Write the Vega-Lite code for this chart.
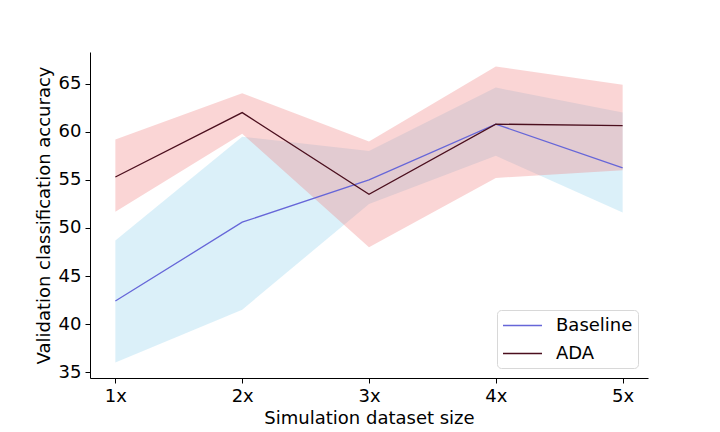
{
  "$schema": "https://vega.github.io/schema/vega-lite/v6.json",
  "width": 558,
  "height": 326,
  "autosize": {"type": "none"},
  "padding": {"left": 90, "top": 52, "right": 72, "bottom": 54},
  "background": "white",
  "config": {
    "font": "DejaVu Sans",
    "view": {"stroke": null},
    "axis": {"grid": false, "domainColor": "black", "tickColor": "black", "labelColor": "black", "titleColor": "black", "labelFontSize": 18, "titleFontSize": 18, "titleFontWeight": "normal", "tickSize": 5, "labelPadding": 4, "domainWidth": 1, "tickWidth": 1}
  },
  "data": {
    "values": [
      {"size": 1, "series": "Baseline", "mean": 42.4, "lo": 36.0, "hi": 48.7},
      {"size": 2, "series": "Baseline", "mean": 50.6, "lo": 41.5, "hi": 59.5},
      {"size": 3, "series": "Baseline", "mean": 55.0, "lo": 52.5, "hi": 58.0},
      {"size": 4, "series": "Baseline", "mean": 60.8, "lo": 57.5, "hi": 64.6},
      {"size": 5, "series": "Baseline", "mean": 56.25, "lo": 51.6, "hi": 62.0},
      {"size": 1, "series": "ADA", "mean": 55.3, "lo": 51.7, "hi": 59.2},
      {"size": 2, "series": "ADA", "mean": 62.0, "lo": 59.8, "hi": 64.0},
      {"size": 3, "series": "ADA", "mean": 53.5, "lo": 48.0, "hi": 59.0},
      {"size": 4, "series": "ADA", "mean": 60.8, "lo": 55.2, "hi": 66.8},
      {"size": 5, "series": "ADA", "mean": 60.65, "lo": 56.0, "hi": 64.9}
    ]
  },
  "encoding": {
    "x": {
      "field": "size", "type": "quantitative",
      "scale": {"domain": [0.8, 5.2], "nice": false, "zero": false},
      "axis": {"values": [1, 2, 3, 4, 5], "labelExpr": "datum.value + 'x'", "title": "Simulation dataset size", "titlePadding": 4}
    }
  },
  "layer": [
    {
      "transform": [{"filter": "datum.series == 'Baseline'"}],
      "mark": {"type": "area", "color": "#87ceeb", "opacity": 0.3},
      "encoding": {
        "y": {"field": "lo", "type": "quantitative", "scale": {"domain": [34.4, 68.3], "nice": false, "zero": false},
          "axis": {"values": [35, 40, 45, 50, 55, 60, 65], "title": "Validation classification accuracy", "titlePadding": 5}},
        "y2": {"field": "hi"}
      }
    },
    {
      "transform": [{"filter": "datum.series == 'ADA'"}],
      "mark": {"type": "area", "color": "#f08080", "opacity": 0.33},
      "encoding": {
        "y": {"field": "lo", "type": "quantitative"},
        "y2": {"field": "hi"}
      }
    },
    {
      "mark": {"type": "line", "strokeWidth": 1.3},
      "encoding": {
        "y": {"field": "mean", "type": "quantitative"},
        "stroke": {
          "field": "series", "type": "nominal",
          "scale": {"domain": ["Baseline", "ADA"], "range": ["#6666d8", "#4b0f1e"]},
          "legend": {
            "title": null, "orient": "bottom-right", "offset": 10,
            "symbolType": "M-2,0H2", "symbolSize": 380, "symbolStrokeWidth": 1.5, "symbolOffset": 10,
            "labelFontSize": 18, "labelColor": "black", "labelOffset": 23,
            "rowPadding": 8, "padding": 5,
            "strokeColor": "#d8d8d8", "fillColor": "white", "cornerRadius": 4
          }
        }
      }
    }
  ]
}
